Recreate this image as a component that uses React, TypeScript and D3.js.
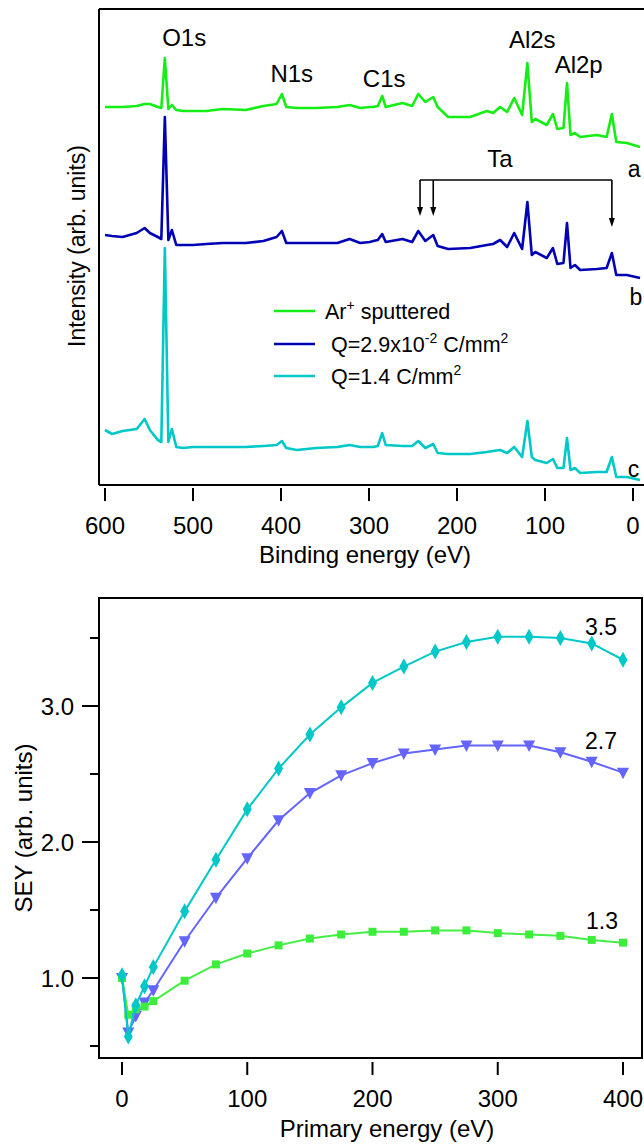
import React from "react";
import * as d3 from "d3";

// XPS survey spectra: binding energy (eV) and stacked intensities (arb. units)
const bindingEnergy = [600, 592, 580, 564, 555, 549, 540, 536, 532, 528, 524, 519, 511, 500, 485, 466, 440, 420, 405, 399, 394, 382, 360, 336, 322, 310, 299, 295, 290, 285, 281, 262, 251, 244, 236, 227, 222, 210, 185, 166, 159, 151, 143, 135, 126, 120, 115, 111, 98, 91, 86, 79, 75, 71, 66, 60, 41, 30, 24, 19, 7, -8];
const arSputtered = [378, 378, 378, 379, 381, 381, 378, 377, 427, 376, 380, 375, 374, 374, 374, 376, 375, 379, 381, 391, 378, 377, 377, 378, 380, 377, 378, 378, 379, 389, 378, 382, 379, 391, 383, 388, 378, 368, 368, 374, 372, 378, 373, 387, 370, 422, 363, 366, 360, 371, 356, 357, 402, 350, 352, 348, 350, 348, 371, 343, 342, 338];
const dose029 = [250, 249, 248, 252, 257, 252, 248, 246, 368, 245, 255, 240, 240, 240, 241, 242, 242, 244, 248, 254, 242, 242, 242, 242, 246, 242, 243, 244, 245, 251, 243, 246, 243, 254, 244, 250, 239, 236, 237, 240, 241, 245, 238, 252, 236, 283, 230, 233, 227, 237, 221, 222, 262, 217, 220, 215, 216, 217, 232, 210, 210, 207];
const dose14 = [55, 51, 54, 56, 66, 55, 45, 43, 237, 43, 56, 38, 37, 38, 38, 38, 38, 39, 40, 44, 37, 35, 37, 38, 40, 38, 38, 38, 39, 52, 40, 39, 39, 44, 37, 41, 32, 31, 31, 33, 34, 35, 32, 38, 28, 64, 28, 25, 22, 26, 17, 17, 47, 15, 17, 12, 13, 13, 28, 8, 8, 5];
const xpsTicks = [600, 500, 400, 300, 200, 100, 0];
const peakNames = ["O1s", "N1s", "C1s", "Al2s", "Al2p"];
const peakLabelBE = [535, 412, 307, 141, 89];
const taPeaks = [242, 227, 24];

// SEY vs primary energy
const primaryEnergy = [0, 5, 11, 18, 25, 50, 75, 100, 125, 150, 175, 200, 225, 250, 275, 300, 325, 350, 375, 400];
const seySputtered = [1.0, 0.73, 0.77, 0.79, 0.83, 0.98, 1.1, 1.18, 1.24, 1.29, 1.32, 1.34, 1.34, 1.35, 1.35, 1.33, 1.32, 1.31, 1.28, 1.26];
const seyDose029 = [1.0, 0.6, 0.72, 0.82, 0.91, 1.27, 1.59, 1.88, 2.16, 2.36, 2.49, 2.58, 2.65, 2.68, 2.71, 2.71, 2.71, 2.66, 2.59, 2.51];
const seyDose14 = [1.02, 0.57, 0.8, 0.94, 1.08, 1.49, 1.87, 2.24, 2.54, 2.79, 2.99, 3.17, 3.29, 3.4, 3.47, 3.51, 3.51, 3.5, 3.46, 3.34];
const seyMaxLabels = ["1.3", "2.7", "3.5"];
const energyTicks = [0, 100, 200, 300, 400];
const seyTicks = [1.0, 2.0, 3.0];
const seyMinorTicks = [0.5, 1.5, 2.5, 3.5];

const font = "'Liberation Sans', Arial, Helvetica, sans-serif";

const App = () => {
  // top panel scales
  const x1 = d3.scaleLinear().domain([600, 0]).range([105, 633]);
  const y1 = d3.scaleLinear().domain([0, 477]).range([485, 8]);
  const spec = d3.line<number>().x((_, i) => x1(bindingEnergy[i])).y(d => y1(d));

  // bottom panel scales
  const x2 = d3.scaleLinear().domain([0, 400]).range([122, 623]);
  const y2 = d3.scaleLinear().domain([0.5, 3.5]).range([1046, 638]);
  const sey = d3.line<number>().x((_, i) => x2(primaryEnergy[i])).y(d => y2(d));

  const spectra = [
    {vals: arSputtered, color: "#14ee14", tag: "a", ty: 177},
    {vals: dose029, color: "#0000b4", tag: "b", ty: 305},
    {vals: dose14, color: "#00c8c8", tag: "c", ty: 477},
  ];

  return (
    <svg width={644} height={1147} style={{position: "absolute", left: 0, top: 0, background: "#fff"}}
      fontFamily={font}>
      {/* ---------- XPS panel ---------- */}
      <line x1={99} y1={9} x2={644} y2={9} stroke="#000" strokeWidth={2} />
      <line x1={99} y1={9} x2={99} y2={485} stroke="#000" strokeWidth={2} />
      <line x1={99} y1={485} x2={644} y2={485} stroke="#000" strokeWidth={2} />
      {xpsTicks.map(t => (
        <g key={t}>
          <line x1={x1(t)} x2={x1(t)} y1={488} y2={501} stroke="#000" strokeWidth={2} />
          <text x={x1(t)} y={534} fontSize={24} textAnchor="middle">{t}</text>
        </g>
      ))}
      <text x={365} y={563} fontSize={24} textAnchor="middle">Binding energy (eV)</text>
      <text transform="translate(85,246) rotate(-90)" fontSize={23} textAnchor="middle">Intensity (arb. units)</text>

      {spectra.map(s => (
        <g key={s.tag}>
          <path d={spec(s.vals) || ""} fill="none" stroke={s.color} strokeWidth={2.6} strokeLinejoin="round" />
          <text x={x1(s.tag === "b" ? 4 : 6)} y={s.ty} fontSize={23}>{s.tag}</text>
        </g>
      ))}

      {peakNames.map((p, i) => (
        <text key={p} x={x1(peakLabelBE[i])} y={[46, 82, 87, 48, 73][i]} fontSize={24}>{p}</text>
      ))}

      {/* Ta bracket */}
      <text x={500} y={167} fontSize={24} textAnchor="middle">Ta</text>
      <line x1={x1(taPeaks[0])} x2={x1(taPeaks[2])} y1={180} y2={180} stroke="#000" strokeWidth={1.6} />
      {taPeaks.map((p, i) => {
        const tip = i === 2 ? 227 : 216;
        const xx = x1(p);
        return (
          <g key={p}>
            <line x1={xx} x2={xx} y1={180} y2={tip - 6} stroke="#000" strokeWidth={1.6} />
            <path d={`M${xx - 3},${tip - 9} L${xx + 3},${tip - 9} L${xx},${tip} Z`} fill="#000" />
          </g>
        );
      })}

      {/* legend */}
      <g fontSize={21.5}>
        <line x1={274} x2={315} y1={311} y2={311} stroke="#14ee14" strokeWidth={2.6} />
        <line x1={274} x2={315} y1={344} y2={344} stroke="#0000b4" strokeWidth={2.6} />
        <line x1={274} x2={315} y1={376} y2={376} stroke="#00c8c8" strokeWidth={2.6} />
        <text x={325} y={319}>Ar<tspan fontSize={14} dy={-9}>+</tspan><tspan dy={9}> sputtered</tspan></text>
        <text x={331} y={352}>Q=2.9x10<tspan fontSize={14} dy={-9}>-2</tspan><tspan dy={9}> C/mm</tspan><tspan fontSize={14} dy={-9}>2</tspan></text>
        <text x={331} y={384}>Q=1.4 C/mm<tspan fontSize={14} dy={-9}>2</tspan></text>
      </g>

      {/* ---------- SEY panel ---------- */}
      <rect x={99} y={598} width={543} height={460} fill="none" stroke="#000" strokeWidth={2} />
      {seyTicks.map(t => (
        <g key={t}>
          <line x1={82} x2={99} y1={y2(t)} y2={y2(t)} stroke="#000" strokeWidth={2} />
          <text x={74} y={y2(t) + 8.5} fontSize={24} textAnchor="end">{t.toFixed(1)}</text>
        </g>
      ))}
      {seyMinorTicks.map(t => (
        <line key={t} x1={90} x2={99} y1={y2(t)} y2={y2(t)} stroke="#000" strokeWidth={2} />
      ))}
      {energyTicks.map(t => (
        <g key={t}>
          <line x1={x2(t)} x2={x2(t)} y1={1062} y2={1075} stroke="#000" strokeWidth={2} />
          <text x={x2(t)} y={1107} fontSize={24} textAnchor="middle">{t}</text>
        </g>
      ))}
      <text x={387} y={1137} fontSize={24} textAnchor="middle">Primary energy (eV)</text>
      <text transform="translate(32,828) rotate(-90)" fontSize={24} textAnchor="middle">SEY (arb. units)</text>

      {/* blue triangles */}
      <path d={sey(seyDose029) || ""} fill="none" stroke="#6464ff" strokeWidth={2} />
      {seyDose029.map((v, i) => (
        <path key={i} transform={`translate(${x2(primaryEnergy[i])},${y2(v)})`} d="M-6,-5 L6,-5 L0,6.5 Z" fill="#6464ff" />
      ))}
      {/* green squares */}
      <path d={sey(seySputtered) || ""} fill="none" stroke="#44ee44" strokeWidth={2} />
      {seySputtered.map((v, i) => (
        <rect key={i} x={x2(primaryEnergy[i]) - 4} y={y2(v) - 4} width={8} height={8} fill="#3cee3c" />
      ))}
      {/* cyan diamonds */}
      <path d={sey(seyDose14) || ""} fill="none" stroke="#00c8c8" strokeWidth={2} />
      {seyDose14.map((v, i) => (
        <path key={i} transform={`translate(${x2(primaryEnergy[i])},${y2(v)})`} d="M0,-8 L4.5,0 L0,8 L-4.5,0 Z" fill="#00c8c8" />
      ))}

      <text x={601} y={635} fontSize={23} textAnchor="middle">{seyMaxLabels[2]}</text>
      <text x={601} y={749} fontSize={23} textAnchor="middle">{seyMaxLabels[1]}</text>
      <text x={602} y={929} fontSize={23} textAnchor="middle">{seyMaxLabels[0]}</text>
    </svg>
  );
};

export default App;
